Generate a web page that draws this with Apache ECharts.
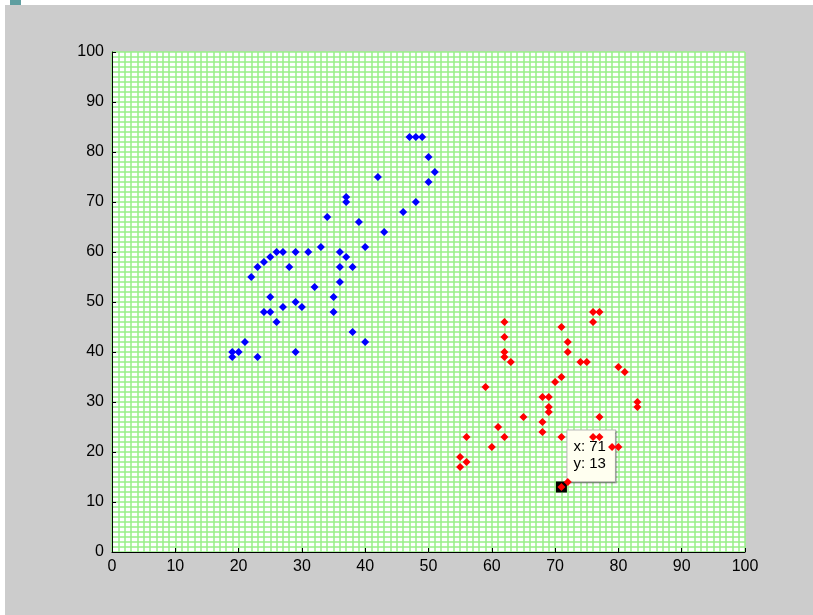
<!DOCTYPE html>
<html>
<head>
<meta charset="utf-8">
<script src="https://cdn.jsdelivr.net/npm/echarts@6/dist/echarts.min.js"></script>
<style>
html,body{margin:0;padding:0;background:#ffffff;}
#chart{width:813px;height:615px;}
</style>
</head>
<body>
<div id="chart"></div>
<script>
// ---- data ----
var blueX = [47,48,49,50,51,50,42,37,37,48,46,34,39,43,40,33,26,27,29,31,36,37,25,24,23,28,36,38,22,36,32,25,35,29,30,27,24,25,35,26,38,40,21,19,20,19,23,29];
var blueY = [83,83,83,79,76,74,75,71,70,70,68,67,66,64,61,61,60,60,60,60,60,59,59,58,57,57,57,57,55,54,53,51,51,50,49,49,48,48,48,46,44,42,42,40,40,39,39,40];
var redX = [76,77,76,62,62,71,72,72,62,62,63,74,75,80,81,71,70,59,68,69,69,69,83,83,65,77,61,68,68,56,62,71,76,77,60,79,80,55,56,55,72,71];
var redY = [48,48,46,46,43,45,42,40,40,39,38,38,38,37,36,35,34,33,31,31,29,28,30,29,27,27,25,26,24,23,23,23,23,23,21,21,21,19,18,17,14,13];
var tipX = [71];
var tipY = [13];
var xTicks = [0,10,20,30,40,50,60,70,80,90,100];
var yTicks = [0,10,20,30,40,50,60,70,80,90,100];

function pairs(xs, ys){ return xs.map(function(x,i){ return [x, ys[i]]; }); }

var chart = echarts.init(document.getElementById('chart'), null, {renderer:'canvas'});
var gridGreen = '#98f088';
var font = '"Liberation Sans", Arial, Helvetica, sans-serif';

function axisCommon(){
  return {
    type:'value', min:0, max:100, interval:10,
    axisLine:{show:true, onZero:false, lineStyle:{color:'#000', width:1}},
    axisTick:{show:true, inside:true, length:4, lineStyle:{color:'#000'}},
    axisLabel:{color:'#000', fontSize:16, fontFamily:font},
    splitLine:{show:true, lineStyle:{color:gridGreen, width:1.5}},
    minorTick:{show:false, splitNumber:10},
    minorSplitLine:{show:true, lineStyle:{color:gridGreen, width:1.5}}
  };
}
var xa = axisCommon();
xa.axisLabel.margin = 7;
xa.axisLabel.formatter = function(v){ return xTicks.indexOf(v) >= 0 ? String(v) : ''; };
var ya = axisCommon();
ya.axisLabel.margin = 8;
ya.axisLabel.formatter = function(v){ return yTicks.indexOf(v) >= 0 ? String(v) : ''; };

chart.setOption({
  animation:false,
  backgroundColor:'#ffffff',
  graphic:[
    {type:'rect', z:-10, silent:true, shape:{x:5, y:5, width:808, height:610}, style:{fill:'#cccccc'}},
    {type:'rect', z:-9, silent:true, shape:{x:10, y:0, width:11, height:5}, style:{fill:'#5f9ea0'}}
  ],
  grid:{left:112, right:68, top:52, bottom:63, show:true, backgroundColor:'#ffffff', borderWidth:0},
  xAxis:xa,
  yAxis:ya,
  series:[
    {
      type:'scatter', z:1, symbol:'rect', symbolSize:11,
      itemStyle:{color:'#000000', opacity:1},
      data:pairs(tipX, tipY),
      label:{
        show:true, position:[11.5,-51], align:'left', verticalAlign:'top',
        formatter:function(p){ return 'x: ' + p.value[0] + '\ny: ' + p.value[1]; },
        fontFamily:font, fontSize:15, lineHeight:17, color:'#000',
        backgroundColor:'#fffff0', borderColor:'#b8b8b8', borderWidth:1,
        padding:[8,9,9,6],
        shadowColor:'rgba(0,0,0,0.25)', shadowOffsetX:1, shadowOffsetY:1, shadowBlur:1
      }
    },
    {type:'scatter', z:3, symbol:'diamond', symbolSize:8, itemStyle:{color:'#0000ff', opacity:1}, data:pairs(blueX, blueY)},
    {type:'scatter', z:3, symbol:'diamond', symbolSize:8, itemStyle:{color:'#ff0000', opacity:1}, data:pairs(redX, redY)}
  ]
});
</script>
</body>
</html>
